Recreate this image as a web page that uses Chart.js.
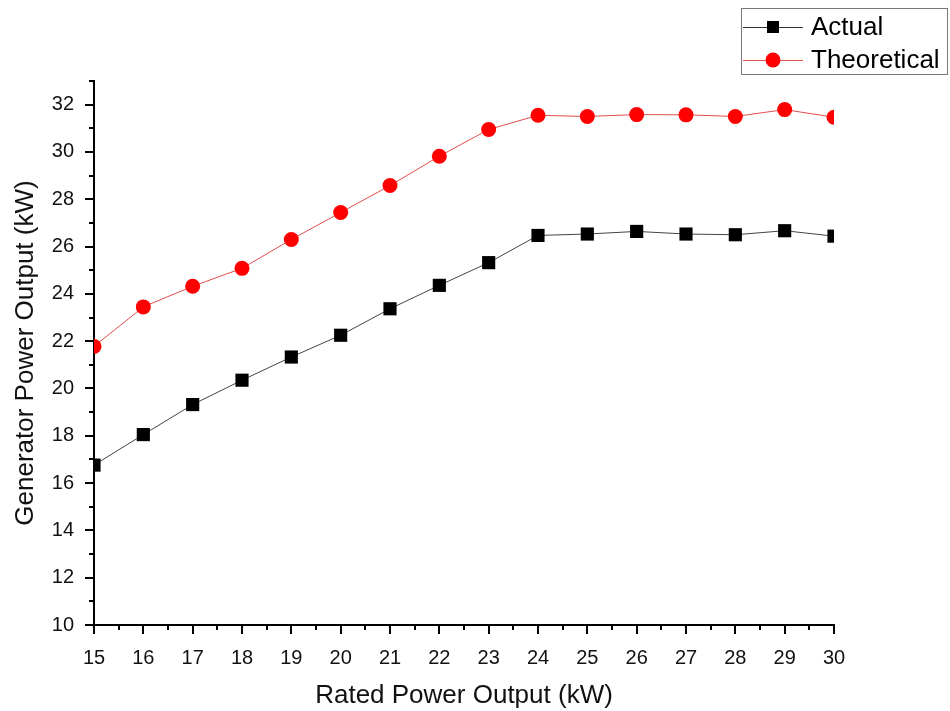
<!DOCTYPE html>
<html>
<head>
<meta charset="utf-8">
<script src="https://cdn.jsdelivr.net/npm/chart.js@4"></script>
<style>
  html, body { margin: 0; padding: 0; background: #fff; }
  #wrap { width: 950px; height: 711px; }
</style>
</head>
<body>
<div id="wrap"><canvas id="myChart" width="950" height="711"></canvas></div>
<script>
// rated power (kW)
let rated = [15, 16, 17, 18, 19, 20, 21, 22, 23, 24, 25, 26, 27, 28, 29, 30];
let actual = [16.76, 18.05, 19.32, 20.35, 21.33, 22.25, 23.37, 24.36, 25.32, 26.47, 26.53, 26.64, 26.53, 26.5, 26.67, 26.44];
let theoretical = [21.78, 23.45, 24.32, 25.08, 26.3, 27.44, 28.58, 29.82, 30.95, 31.55, 31.5, 31.58, 31.57, 31.5, 31.79, 31.47];
let seriesNames = ['Actual', 'Theoretical'];

const FONT = "'Liberation Sans', Arial, sans-serif";

function toPoints(ys) {
  return rated.map((x, i) => ({ x: x, y: ys[i] }));
}

// minor + major tick marks drawn outward, like the original plot
const tickMarks = {
  id: 'tickMarks',
  afterDraw(chart) {
    const ctx = chart.ctx;
    const xs = chart.scales.x;
    const ys = chart.scales.y;
    const area = chart.chartArea;
    ctx.save();
    ctx.strokeStyle = '#000';
    ctx.lineWidth = 2;
    ctx.beginPath();
    for (let v = 10; v <= 33; v++) {
      const py = Math.round(ys.getPixelForValue(v));
      const len = v % 2 === 0 ? 9 : 5;
      ctx.moveTo(area.left - len, py);
      ctx.lineTo(area.left, py);
    }
    for (let v = 15; v <= 30; v += 0.5) {
      const px = Math.round(xs.getPixelForValue(v));
      const len = Number.isInteger(v) ? 9 : 5;
      ctx.moveTo(px, area.bottom);
      ctx.lineTo(px, area.bottom + len);
    }
    ctx.stroke();
    ctx.restore();
  }
};

// boxed legend in the top right corner
const boxLegend = {
  id: 'boxLegend',
  afterDraw(chart) {
    const ctx = chart.ctx;
    ctx.save();
    ctx.strokeStyle = '#777';
    ctx.lineWidth = 1;
    ctx.strokeRect(741.5, 8.5, 206, 66);
    const rows = [
      { y: 27, line: '#333', fill: '#000', shape: 'rect' },
      { y: 60, line: '#e34d4d', fill: '#f00', shape: 'circle' }
    ];
    rows.forEach((r, i) => {
      ctx.strokeStyle = r.line;
      ctx.beginPath();
      ctx.moveTo(743, r.y + 0.5);
      ctx.lineTo(803, r.y + 0.5);
      ctx.stroke();
      ctx.fillStyle = r.fill;
      if (r.shape === 'rect') {
        ctx.fillRect(767, r.y - 6, 12, 12);
      } else {
        ctx.beginPath();
        ctx.arc(773, r.y, 7.5, 0, Math.PI * 2);
        ctx.fill();
      }
      ctx.fillStyle = '#000';
      ctx.font = '26px ' + FONT;
      ctx.textBaseline = 'middle';
      ctx.textAlign = 'left';
      ctx.fillText(seriesNames[i], 811, r.y + 1);
    });
    ctx.restore();
  }
};

const ctx = document.getElementById('myChart');
new Chart(ctx, {
  type: 'line',
  data: {
    datasets: [{
      label: seriesNames[0],
      data: toPoints(actual),
      borderColor: '#444',
      borderWidth: 1,
      backgroundColor: '#000',
      pointStyle: 'rect',
      pointRadius: 9.3,
      pointBorderWidth: 0,
      clip: 0
    }, {
      label: seriesNames[1],
      data: toPoints(theoretical),
      borderColor: '#e34d4d',
      borderWidth: 1,
      backgroundColor: '#f00',
      pointStyle: 'circle',
      pointRadius: 7.5,
      pointBorderWidth: 0,
      clip: 0
    }]
  },
  options: {
    responsive: false,
    animation: false,
    layout: { padding: { left: 0, top: 81, right: 116, bottom: 0 } },
    plugins: {
      legend: { display: false },
      tooltip: { enabled: false }
    },
    scales: {
      x: {
        type: 'linear',
        min: 15,
        max: 30,
        grid: { display: false },
        border: { display: true, color: '#000', width: 2 },
        ticks: {
          stepSize: 1,
          autoSkip: false,
          padding: 13,
          color: '#111',
          font: { family: FONT, size: 20 },
          maxRotation: 0
        },
        title: {
          display: true,
          text: 'Rated Power Output (kW)',
          color: '#111',
          font: { family: FONT, size: 26 },
          padding: { top: 4, bottom: 0 }
        },
        afterFit(scale) { scale.height = 86; }
      },
      y: {
        min: 10,
        max: 33,
        grid: { display: false },
        border: { display: true, color: '#000', width: 2 },
        afterBuildTicks(scale) {
          scale.ticks = scale.ticks.filter(t => t.value % 2 === 0);
        },
        ticks: {
          stepSize: 2,
          includeBounds: false,
          autoSkip: false,
          padding: 12,
          color: '#111',
          font: { family: FONT, size: 20 }
        },
        title: {
          display: true,
          text: 'Generator Power Output (kW)',
          color: '#111',
          font: { family: FONT, size: 26 },
          padding: { top: 10, bottom: 0 }
        },
        afterFit(scale) { scale.width = 94; }
      }
    }
  },
  plugins: [tickMarks, boxLegend]
});
</script>
</body>
</html>
